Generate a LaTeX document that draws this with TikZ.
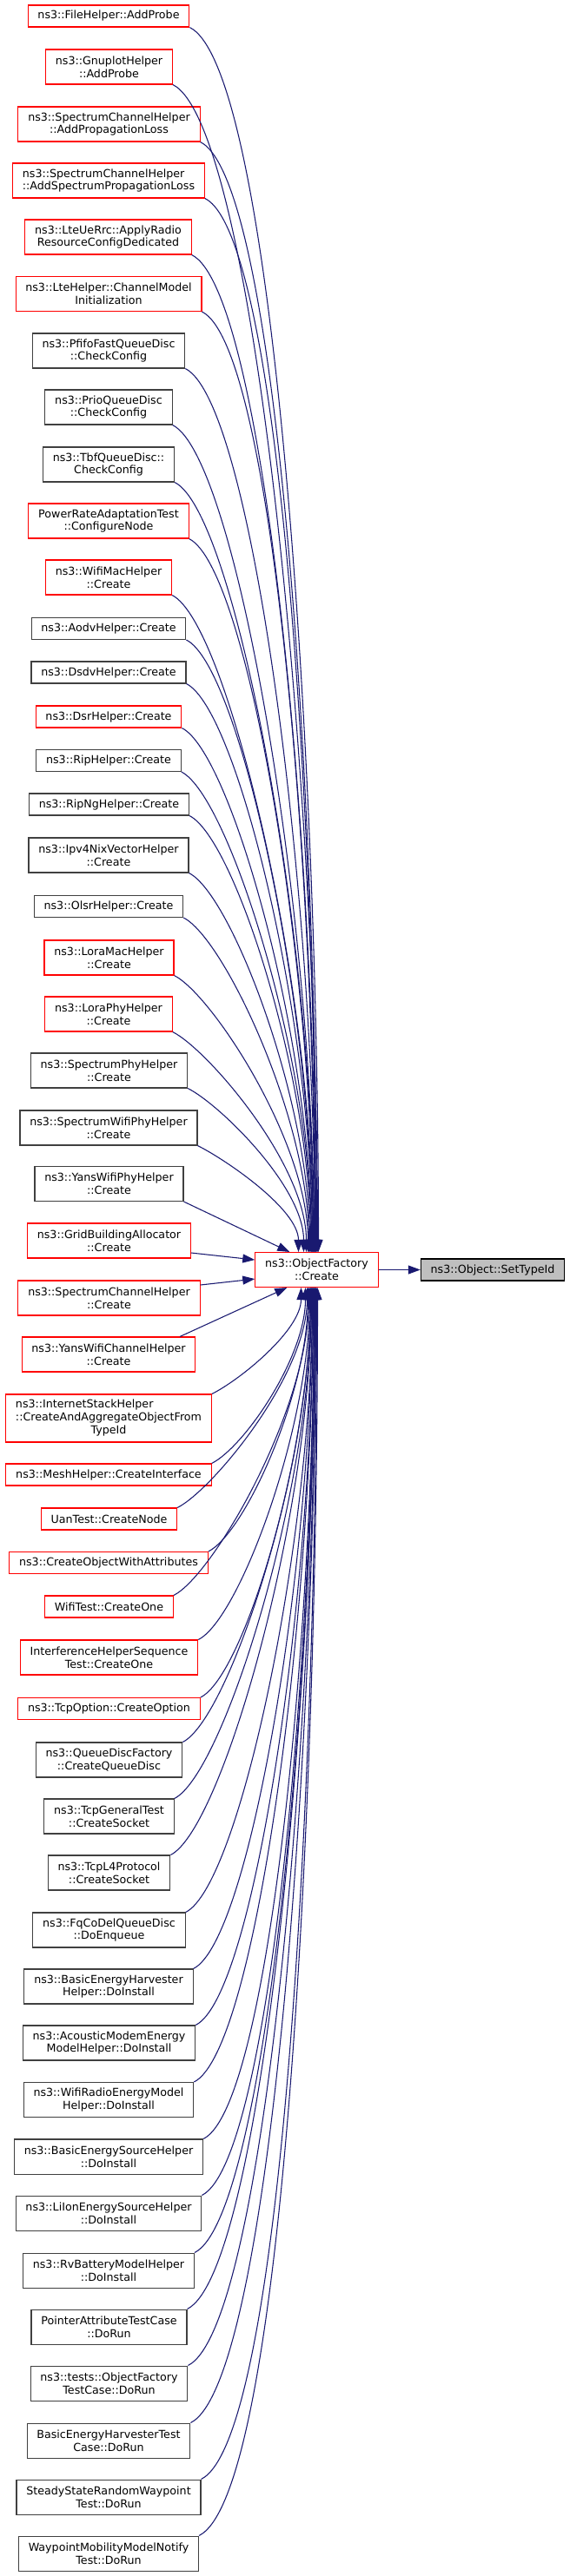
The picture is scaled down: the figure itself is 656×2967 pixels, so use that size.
\documentclass[tikz,border=0pt]{standalone}
\usepackage{fontspec}
\setmainfont{DejaVu Sans}
\usepackage{tikz}
\usetikzlibrary{arrows.meta,calc}
\usepackage{xcolor}
\definecolor{edgeblue}{HTML}{191970}
\definecolor{rootgray}{HTML}{BFBFBF}

\begin{document}
\begin{tikzpicture}[x=0.75pt, y=-0.75pt,
    caller/.style={rectangle, draw=black!75, fill=white, line width=0.8pt, inner xsep=8.5pt, inner ysep=1pt,
                   minimum height=18.75pt, align=center, font=\fontsize{9.5}{11}\selectfont},
    callerred/.style={caller, draw=red},
    twoline/.style={minimum height=30pt},
    rootfn/.style={caller, draw=black, fill=rootgray},
    arr/.style={-{Triangle[length=10.5pt, width=7.5pt]}, draw=edgeblue, line width=0.8pt}]

    \useasboundingbox (0,0) rectangle (656,2967);

    % Callers above
    \node[callerred] (fileAddProbe) at (125,18.5) {ns3::FileHelper::AddProbe};
    \node[callerred, twoline] (gnuplotAddProbe) at (125.5,77) {ns3::GnuplotHelper\\::AddProbe};
    \node[callerred, twoline] (addPropLoss) at (125.5,143) {ns3::SpectrumChannelHelper\\::AddPropagationLoss};
    \node[callerred, twoline, align=left] (addSpecPropLoss) at (125,208) {ns3::SpectrumChannelHelper\\::AddSpectrumPropagationLoss};
    \node[callerred, twoline] (applyRadio) at (124.5,273) {ns3::LteUeRrc::ApplyRadio\\ResourceConfigDedicated};
    \node[callerred, twoline] (channelInit) at (125,338.5) {ns3::LteHelper::ChannelModel\\Initialization};
    \node[caller, twoline] (pfifoCheck) at (125,404) {ns3::PfifoFastQueueDisc\\::CheckConfig};
    \node[caller, twoline] (prioCheck) at (125,469) {ns3::PrioQueueDisc\\::CheckConfig};
    \node[caller, twoline] (tbfCheck) at (125,535) {ns3::TbfQueueDisc::\\CheckConfig};
    \node[callerred, twoline] (configureNode) at (125,600) {PowerRateAdaptationTest\\::ConfigureNode};
    \node[callerred, twoline] (wifiMac) at (125,665) {ns3::WifiMacHelper\\::Create};
    \node[caller] (aodv) at (125,724) {ns3::AodvHelper::Create};
    \node[caller] (dsdv) at (125,774.5) {ns3::DsdvHelper::Create};
    \node[callerred] (dsr) at (125,825.5) {ns3::DsrHelper::Create};
    \node[caller] (rip) at (125,876) {ns3::RipHelper::Create};
    \node[caller] (ripng) at (125.5,926.5) {ns3::RipNgHelper::Create};
    \node[caller, twoline] (nixVector) at (125,985) {ns3::Ipv4NixVectorHelper\\::Create};
    \node[caller] (olsr) at (125,1044) {ns3::OlsrHelper::Create};
    \node[callerred, twoline] (loraMac) at (125.5,1103) {ns3::LoraMacHelper\\::Create};
    \node[callerred, twoline] (loraPhy) at (125,1168) {ns3::LoraPhyHelper\\::Create};
    \node[caller, twoline] (specPhy) at (125.5,1233) {ns3::SpectrumPhyHelper\\::Create};
    \node[caller, twoline] (specWifiPhy) at (125,1299) {ns3::SpectrumWifiPhyHelper\\::Create};
    \node[caller, twoline] (yansPhy) at (125.5,1363.5) {ns3::YansWifiPhyHelper\\::Create};

    % Callers beside
    \node[callerred, twoline] (gridAlloc) at (125.5,1429) {ns3::GridBuildingAllocator\\::Create};
    \node[callerred, twoline] (specChan) at (125.5,1495) {ns3::SpectrumChannelHelper\\::Create};
    \node[callerred, twoline] (yansChan) at (125,1560) {ns3::YansWifiChannelHelper\\::Create};

    % Callers below
    \node[callerred, minimum height=41.25pt] (createAggregate) at (125,1633.5)
        {\begin{tabular}{@{}l@{}}ns3::InternetStackHelper\\::CreateAndAggregateObjectFrom\\\multicolumn{1}{@{}c@{}}{TypeId}\end{tabular}};
    \node[callerred] (meshIface) at (125,1698.5) {ns3::MeshHelper::CreateInterface};
    \node[callerred] (uanNode) at (125.5,1749.5) {UanTest::CreateNode};
    \node[callerred] (withAttr) at (125,1800) {ns3::CreateObjectWithAttributes};
    \node[callerred] (wifiOne) at (125.5,1850.5) {WifiTest::CreateOne};
    \node[callerred, twoline] (interfOne) at (125.5,1909) {InterferenceHelperSequence\\Test::CreateOne};
    \node[callerred] (tcpOption) at (125.5,1968) {ns3::TcpOption::CreateOption};
    \node[caller, twoline] (queueDisc) at (125.5,2027) {ns3::QueueDiscFactory\\::CreateQueueDisc};
    \node[caller, twoline] (tcpGenSock) at (125.5,2092) {ns3::TcpGeneralTest\\::CreateSocket};
    \node[caller, twoline] (tcpL4Sock) at (125.5,2157) {ns3::TcpL4Protocol\\::CreateSocket};
    \node[caller, twoline] (fqEnqueue) at (125.5,2223) {ns3::FqCoDelQueueDisc\\::DoEnqueue};
    \node[caller, twoline] (harvInstall) at (125,2288) {ns3::BasicEnergyHarvester\\Helper::DoInstall};
    \node[caller, twoline] (acousticInstall) at (125.5,2353) {ns3::AcousticModemEnergy\\ModelHelper::DoInstall};
    \node[caller, twoline] (wifiRadioInstall) at (125,2418.5) {ns3::WifiRadioEnergyModel\\Helper::DoInstall};
    \node[caller, twoline] (basicSrcInstall) at (125,2484) {ns3::BasicEnergySourceHelper\\::DoInstall};
    \node[caller, twoline] (liionInstall) at (125,2549) {ns3::LiIonEnergySourceHelper\\::DoInstall};
    \node[caller, twoline] (rvInstall) at (125,2615) {ns3::RvBatteryModelHelper\\::DoInstall};
    \node[caller, twoline] (pointerRun) at (125.5,2680) {PointerAttributeTestCase\\::DoRun};
    \node[caller, twoline] (factoryRun) at (125.5,2745) {ns3::tests::ObjectFactory\\TestCase::DoRun};
    \node[caller, twoline] (harvTestRun) at (125,2811) {BasicEnergyHarvesterTest\\Case::DoRun};
    \node[caller, twoline] (steadyRun) at (125,2876) {SteadyStateRandomWaypoint\\Test::DoRun};
    \node[caller, twoline] (waypointRun) at (125,2941) {WaypointMobilityModelNotify\\Test::DoRun};

    % Callee and root
    \node[callerred, twoline] (create) at (364.5,1462.5) {ns3::ObjectFactory\\::Create};
    \node[rootfn] (setTypeId) at (567,1462.5) {ns3::Object::SetTypeId};

    % Edges from above
    \foreach \c/\e in {fileAddProbe/2, gnuplotAddProbe/1, addPropLoss/0, addSpecPropLoss/-1,
        applyRadio/-1, channelInit/-2, pfifoCheck/-2, prioCheck/-3, tbfCheck/-3, configureNode/-4,
        wifiMac/-4, aodv/-5, dsdv/-5, dsr/-6, rip/-6, ripng/-7, nixVector/-8, olsr/-9,
        loraMac/-10, loraPhy/-12, specPhy/-15, specWifiPhy/-21}
      \draw[arr] let \p1=(\c.south east), \p2=($(create.north)+(\e,0)$),
          \n1={\y1-\y2}, \n2={0.05*\n1+20pt} in
        (\p1) .. controls ($(\p1)+(\n2,-0.5*\n2)$) and ($(\p2)+(0pt,0.4*\n1)$) .. (\p2);

    % Edges from beside
    \draw[arr] (yansPhy.south east) -- ($(create.north west)+(40,0)$);
    \draw[arr] ([yshift=-10.5pt]gridAlloc.east) -- ([yshift=8.6pt]create.west);
    \draw[arr] ([yshift=11.25pt]specChan.east) -- ([yshift=-7.9pt]create.west);
    \draw[arr] ($(yansChan.north)+(82,0)$) -- ($(create.south west)+(37,0)$);

    % Edges from below
    \foreach \c/\e in {createAggregate/-18, meshIface/-13, uanNode/-11, withAttr/-10, wifiOne/-9,
        interfOne/-8, tcpOption/-7, queueDisc/-7, tcpGenSock/-6, tcpL4Sock/-6, fqEnqueue/-5,
        harvInstall/-5, acousticInstall/-4, wifiRadioInstall/-4, basicSrcInstall/-3, liionInstall/-3,
        rvInstall/-2, pointerRun/-2, factoryRun/-1, harvTestRun/-1, steadyRun/0, waypointRun/1}
      \draw[arr] let \p1=(\c.north east), \p2=($(create.south)+(\e,0)$),
          \n1={\y2-\y1}, \n2={0.05*\n1+20pt} in
        (\p1) .. controls ($(\p1)+(\n2,0.5*\n2)$) and ($(\p2)-(0pt,0.4*\n1)$) .. (\p2);

    % Call to the root
    \draw[arr] (create) -- (setTypeId);
\end{tikzpicture}
\end{document}
